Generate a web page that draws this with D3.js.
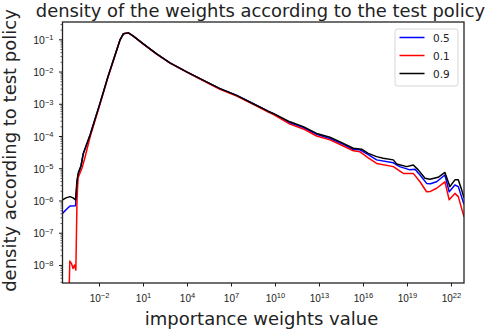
<!DOCTYPE html>
<html>
<head>
<meta charset="utf-8">
<script src="https://cdn.jsdelivr.net/npm/d3@7"></script>
<style>
  body { margin: 0; background: #fff; }
  svg { font-family: "DejaVu Sans", sans-serif; }
</style>
</head>
<body>
<svg id="chart" width="490" height="330"></svg>
<script>
// values, as [log10(weight), log10(density)]
const series_names = ["0.5", "0.1", "0.9"];
const series_colors = ["#0000ff", "#ff0000", "#000000"];

const curve_05 = [
    [-4.49, -6.40], [-4.25, -6.29], [-3.98, -6.17], [-3.60, -6.16], [-3.53, -5.67], [-3.43, -5.21],
    [-3.23, -4.93], [-3.07, -4.54], [-2.61, -3.97], [-1.93, -2.98], [-1.39, -2.16], [-0.57, -1.02],
    [-0.34, -0.83], [0.00, -0.80], [0.34, -0.90], [1.02, -1.14], [1.93, -1.45], [2.84, -1.73],
    [3.98, -2.01], [4.89, -2.22], [6.25, -2.53], [7.39, -2.74], [8.52, -3.00], [9.54, -3.24],
    [9.88, -3.31], [11.02, -3.59], [11.93, -3.74], [12.84, -3.95], [13.75, -4.08], [14.66, -4.26],
    [15.34, -4.42], [15.80, -4.43], [16.36, -4.58], [16.93, -4.74], [18.07, -4.83], [18.50, -4.95],
    [19.20, -5.05], [19.55, -5.03], [19.89, -5.21], [20.34, -5.47], [20.60, -5.48], [21.02, -5.42],
    [21.59, -5.21], [21.88, -5.73], [22.27, -5.52], [22.50, -5.57], [22.89, -6.12]
];

const curve_01 = [
    [-4.05, -9.00], [-3.99, -7.88], [-3.88, -7.95], [-3.77, -8.11], [-3.67, -8.00], [-3.58, -8.16],
    [-3.50, -5.98], [-3.43, -5.30], [-3.16, -4.99], [-2.95, -4.65], [-2.61, -4.03], [-1.93, -3.01],
    [-1.39, -2.18], [-0.57, -1.03], [-0.34, -0.83], [0.00, -0.80], [0.34, -0.90], [1.02, -1.15],
    [1.93, -1.46], [2.84, -1.74], [3.98, -2.02], [4.89, -2.23], [6.25, -2.55], [7.39, -2.76],
    [8.52, -3.02], [9.54, -3.26], [9.88, -3.33], [11.02, -3.63], [11.93, -3.78], [12.84, -4.00],
    [13.75, -4.12], [14.66, -4.31], [15.34, -4.46], [15.80, -4.49], [16.36, -4.68], [16.93, -4.85],
    [18.07, -4.95], [18.75, -5.16], [19.43, -5.16], [19.89, -5.42], [20.34, -5.73], [20.60, -5.72],
    [21.02, -5.62], [21.59, -5.42], [21.88, -5.98], [22.27, -5.78], [22.50, -5.88], [22.89, -6.51]
];

const curve_09 = [
    [-4.49, -5.98], [-4.25, -5.92], [-3.98, -5.88], [-3.77, -5.92], [-3.60, -5.98], [-3.50, -5.36],
    [-3.40, -5.12], [-3.23, -4.93], [-3.07, -4.54], [-2.61, -3.97], [-1.93, -2.98], [-1.39, -2.16],
    [-0.57, -1.02], [-0.34, -0.83], [0.00, -0.80], [0.34, -0.90], [1.02, -1.14], [1.93, -1.45],
    [2.84, -1.73], [3.98, -2.01], [4.89, -2.22], [6.25, -2.53], [7.39, -2.74], [8.52, -3.00],
    [9.54, -3.23], [9.88, -3.30], [11.02, -3.56], [11.93, -3.71], [12.84, -3.92], [13.75, -4.04],
    [14.66, -4.23], [15.34, -4.38], [15.91, -4.41], [16.36, -4.54], [16.93, -4.64], [17.38, -4.69],
    [18.07, -4.74], [18.30, -4.87], [18.98, -4.95], [19.43, -4.90], [19.77, -5.05], [20.23, -5.31],
    [20.57, -5.34], [21.13, -5.28], [21.59, -5.13], [21.81, -5.42], [21.93, -5.57], [22.27, -5.36],
    [22.50, -5.36], [22.73, -5.67], [22.89, -5.92]
];

const x_tick_exps = [-2, 1, 4, 7, 10, 13, 16, 19, 22];
const y_tick_exps = [-8, -7, -6, -5, -4, -3, -2, -1];

const all_curves = [curve_05, curve_01, curve_09];

// layout
const svg = d3.select("#chart");
const plot = {left: 62.5, right: 464, top: 22, bottom: 283};

const x = d3.scaleLog()
    .domain([Math.pow(10, -4.49), Math.pow(10, 22.89)])
    .range([plot.left, plot.right]);
const y = d3.scaleLog()
    .domain([Math.pow(10, -8.56), Math.pow(10, -0.463)])
    .range([plot.bottom, plot.top]);

svg.append("defs").append("clipPath").attr("id", "plot_clip")
    .append("rect")
    .attr("x", plot.left).attr("y", plot.top)
    .attr("width", plot.right - plot.left).attr("height", plot.bottom - plot.top);

// lines
const line = d3.line()
    .x((p) => x(Math.pow(10, p[0])))
    .y((p) => y(Math.pow(10, p[1])));

svg.append("g").attr("clip-path", "url(#plot_clip)")
    .selectAll("path")
    .data(all_curves)
    .join("path")
    .attr("d", (d) => line(d))
    .attr("fill", "none")
    .attr("stroke", (d, i) => series_colors[i])
    .attr("stroke-width", 1.5)
    .attr("stroke-linejoin", "round");

// superscript tick label
function powLabel(sel, e) {
    sel.append("tspan").text("10");
    sel.append("tspan")
        .attr("dy", "-0.45em")
        .attr("font-size", "7.5px")
        .text(String(e).replace("-", "\u2212"));
}

// x axis
const x_axis = svg.append("g")
    .attr("transform", "translate(0," + plot.bottom + ")")
    .call(d3.axisBottom(x).tickValues(x_tick_exps.map((e) => Math.pow(10, e)))
        .tickSize(3.5).tickFormat(""));
x_axis.select(".domain").remove();
x_axis.selectAll(".tick line").attr("stroke", "#000").attr("stroke-width", 0.9);
x_axis.selectAll(".tick").each(function(d, i) {
    const t = d3.select(this).append("text")
        .attr("y", 18.5)
        .attr("text-anchor", "middle")
        .attr("fill", "#222")
        .attr("font-size", "10px");
    powLabel(t, x_tick_exps[i]);
});

// y axis, major and minor ticks
const y_minor = [];
for (let e = -9; e <= -1; e++) {
    for (let m = 2; m <= 9; m++) {
        const v = m * Math.pow(10, e);
        if (v >= y.domain()[0] && v <= y.domain()[1]) y_minor.push(v);
    }
}
const y_minor_axis = svg.append("g")
    .attr("transform", "translate(" + plot.left + ",0)")
    .call(d3.axisLeft(y).tickValues(y_minor).tickSize(2).tickFormat(""));
y_minor_axis.select(".domain").remove();
y_minor_axis.selectAll(".tick line").attr("stroke", "#000").attr("stroke-width", 0.6);

const y_axis = svg.append("g")
    .attr("transform", "translate(" + plot.left + ",0)")
    .call(d3.axisLeft(y).tickValues(y_tick_exps.map((e) => Math.pow(10, e)))
        .tickSize(3.5).tickFormat(""));
y_axis.select(".domain").remove();
y_axis.selectAll(".tick line").attr("stroke", "#000").attr("stroke-width", 0.9);
y_axis.selectAll(".tick").each(function(d, i) {
    const t = d3.select(this).append("text")
        .attr("x", -9)
        .attr("y", 4)
        .attr("text-anchor", "end")
        .attr("fill", "#222")
        .attr("font-size", "10.5px");
    powLabel(t, y_tick_exps[i]);
});

// frame
svg.append("rect")
    .attr("x", plot.left).attr("y", plot.top)
    .attr("width", plot.right - plot.left).attr("height", plot.bottom - plot.top)
    .attr("fill", "none").attr("stroke", "#222").attr("stroke-width", 1.3);

// titles
svg.append("text")
    .attr("x", 260.5).attr("y", 17)
    .attr("text-anchor", "middle").attr("font-size", "17.9px").attr("fill", "#222")
    .text("density of the weights according to the test policy");
svg.append("text")
    .attr("x", 261.5).attr("y", 324.5)
    .attr("text-anchor", "middle").attr("font-size", "18px").attr("fill", "#222")
    .text("importance weights value");
svg.append("text")
    .attr("transform", "translate(15.5,150.5) rotate(-90)")
    .attr("text-anchor", "middle").attr("font-size", "18px").attr("fill", "#222")
    .text("density according to test policy");

// legend
const legend = svg.append("g").attr("transform", "translate(395,29)");
legend.append("rect")
    .attr("width", 63).attr("height", 57).attr("rx", 2.5)
    .attr("fill", "#fff").attr("fill-opacity", 0.8)
    .attr("stroke", "#cccccc").attr("stroke-width", 0.8);
series_names.forEach((name, i) => {
    const row = legend.append("g").attr("transform", "translate(0," + (8.5 + i * 18) + ")");
    row.append("line")
        .attr("x1", 4.5).attr("x2", 29.5)
        .attr("stroke", series_colors[i]).attr("stroke-width", 1.5);
    row.append("text")
        .attr("x", 38).attr("y", 4)
        .attr("font-size", "10.5px").attr("fill", "#222")
        .text(name);
});
</script>
</body>
</html>
